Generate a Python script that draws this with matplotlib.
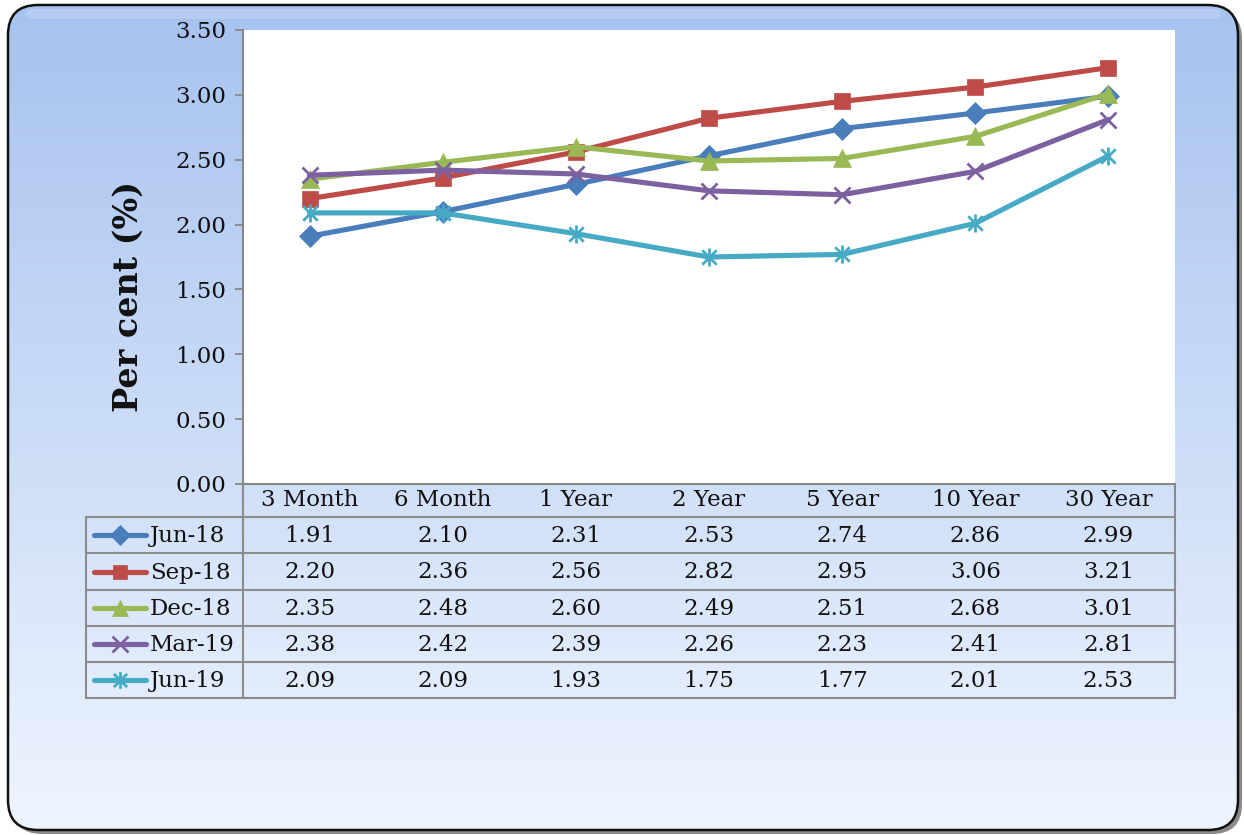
import numpy as np
import matplotlib
matplotlib.use('Agg')
import matplotlib.pyplot as plt
from matplotlib.patches import FancyBboxPatch
from matplotlib.path import Path
from matplotlib.colors import to_rgb
from matplotlib.transforms import blended_transform_factory

# ---------------- data ----------------
categories = ['3 Month', '6 Month', '1 Year', '2 Year', '5 Year', '10 Year', '30 Year']
series_names = ['Jun-18', 'Sep-18', 'Dec-18', 'Mar-19', 'Jun-19']
jun18 = [1.91, 2.10, 2.31, 2.53, 2.74, 2.86, 2.99]
sep18 = [2.20, 2.36, 2.56, 2.82, 2.95, 3.06, 3.21]
dec18 = [2.35, 2.48, 2.60, 2.49, 2.51, 2.68, 3.01]
mar19 = [2.38, 2.42, 2.39, 2.26, 2.23, 2.41, 2.81]
jun19 = [2.09, 2.09, 1.93, 1.75, 1.77, 2.01, 2.53]
yticks = [0.0, 0.5, 1.0, 1.5, 2.0, 2.5, 3.0, 3.5]
ylabel = 'Per cent (%)'

series_values = [jun18, sep18, dec18, mar19, jun19]
colors = ['#4a7ebb', '#be4b48', '#98b954', '#7d60a0', '#46aac5']

asterisk = Path([(-1, -1), (1, 1), (-1, 1), (1, -1), (0, -1.25), (0, 1.25)],
                [Path.MOVETO, Path.LINETO, Path.MOVETO, Path.LINETO, Path.MOVETO, Path.LINETO])
markers = ['D', 's', '^', 'x', asterisk]
msizes = [11, 11, 12.5, 12, 13]

plt.rcParams['font.family'] = ['DejaVu Serif']

W, H = 1244, 835
fig = plt.figure(figsize=(W / 100, H / 100), dpi=100)
fig.patch.set_facecolor('white')

# ---------------- background ----------------
bg = fig.add_axes([0, 0, 1, 1], zorder=0)
bg.set_xlim(0, W)
bg.set_ylim(H, 0)
bg.axis('off')

x0, y0, bw, bh = 8, 5, 1230, 825
shadow = FancyBboxPatch((x0 + 4, y0 + 4), bw, bh,
                        boxstyle='round,pad=0,rounding_size=30',
                        facecolor='#6d6d6d', edgecolor='none', alpha=0.8, zorder=0)
bg.add_patch(shadow)
frame = FancyBboxPatch((x0, y0), bw, bh, boxstyle='round,pad=0,rounding_size=30',
                       facecolor='none', edgecolor='#111111', linewidth=1.8, zorder=3)
bg.add_patch(frame)
fillp = FancyBboxPatch((x0, y0), bw, bh, boxstyle='round,pad=0,rounding_size=30',
                       facecolor='white', edgecolor='none', zorder=1)
bg.add_patch(fillp)
top_c = np.array(to_rgb('#a6c2ef'))
bot_c = np.array(to_rgb('#eff5ff'))
t = np.linspace(0, 1, 400)[:, None]
grad = top_c[None, None, :] * (1 - t[:, :, None]) + bot_c[None, None, :] * t[:, :, None]
im = bg.imshow(grad, extent=(x0, x0 + bw, y0 + bh, y0), origin='upper',
               aspect='auto', zorder=2, interpolation='bilinear')
im.set_clip_path(fillp)
gloss = FancyBboxPatch((x0 + 18, y0 + 4), bw - 36, 10, boxstyle='round,pad=0,rounding_size=5',
                       facecolor='white', edgecolor='none', alpha=0.18, zorder=2.5)
bg.add_patch(gloss)
bg.set_xlim(0, W)
bg.set_ylim(H, 0)

# ---------------- plot area ----------------
L, R, T, B = 243, 1175, 30, 484
ax = fig.add_axes([L / W, 1 - B / H, (R - L) / W, (B - T) / H], zorder=2)
ax.set_facecolor('white')
x = np.arange(len(categories))
for vals, c, m, ms in zip(series_values, colors, markers, msizes):
    thin = (m == 'x') or isinstance(m, Path)
    ax.plot(x, vals, color=c, lw=3.7, marker=m, markersize=ms,
            markeredgewidth=2.0 if thin else 0.5,
            markeredgecolor=c, markerfacecolor=c, solid_capstyle='round', zorder=3, clip_on=False)
ax.set_xlim(-0.5, len(categories) - 0.5)
ax.set_ylim(min(yticks), max(yticks))
ax.set_yticks(yticks)
ax.set_yticklabels([f'{v:.2f}' for v in yticks], fontsize=16.5, color='#111111')
ax.set_xticks([])
ax.tick_params(axis='y', direction='out', length=6, width=1.3, color='#888888', pad=6)
for s in ['top', 'right']:
    ax.spines[s].set_visible(False)
for s in ['left', 'bottom']:
    ax.spines[s].set_color('#888888')
    ax.spines[s].set_linewidth(1.5)

fig.text(128 / W, 1 - 296 / H, ylabel, rotation=90, fontsize=24, fontweight='bold',
         ha='center', va='center', color='#111111')

# ---------------- data table ----------------
tr = blended_transform_factory(ax.transData, bg.transData)
gc = '#8c8c8c'
row_edges = [517, 553, 590, 626, 662, 698]
header_y = 500
fs = 16.5
for i, cat in enumerate(categories):
    bg.text(i, header_y, cat, transform=tr, ha='center', va='center', fontsize=fs,
            color='#111111', zorder=5)
for y in row_edges:
    bg.plot([86, R], [y, y], color=gc, lw=1.5, zorder=5, solid_capstyle='butt')
bg.plot([86, 86], [row_edges[0], row_edges[-1]], color=gc, lw=1.5, zorder=5)
bg.plot([L, L], [B, row_edges[-1]], color=gc, lw=1.5, zorder=5)
bg.plot([R, R], [B, row_edges[-1]], color=gc, lw=1.5, zorder=5)

for k, (name, vals, c, m, ms) in enumerate(zip(series_names, series_values, colors, markers, msizes)):
    yc = (row_edges[k] + row_edges[k + 1]) / 2
    thin = (m == 'x') or isinstance(m, Path)
    bg.plot([94, 146], [yc, yc], color=c, lw=3.7, solid_capstyle='round', zorder=6)
    bg.plot([120], [yc], marker=m, markersize=ms - 1, color=c,
            markeredgewidth=2.0 if thin else 0.5, zorder=6)
    bg.text(150, yc + 1, name, ha='left', va='center', fontsize=fs, color='#111111', zorder=6)
    for i, v in enumerate(vals):
        bg.text(i, yc + 1, f'{v:.2f}', transform=tr, ha='center', va='center',
                fontsize=fs, color='#111111', zorder=6)

fig.savefig('out.png', dpi=100)
